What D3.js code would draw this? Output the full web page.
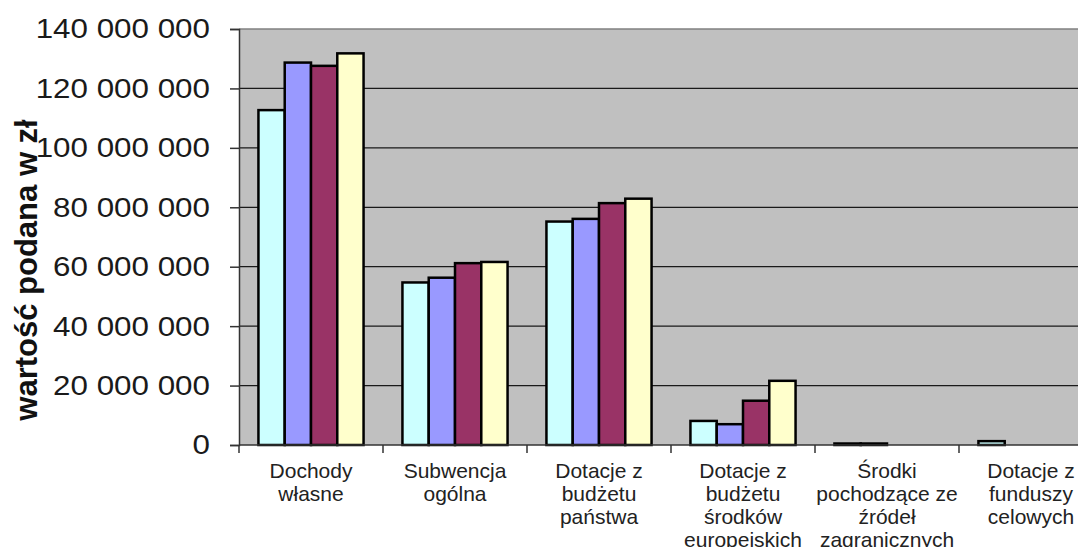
<!DOCTYPE html>
<html>
<head>
<meta charset="utf-8">
<script src="https://cdn.jsdelivr.net/npm/d3@7"></script>
<style>
  body { margin: 0; background: #fff; }
  svg { display: block; }
  text { font-family: "Liberation Sans", Arial, sans-serif; }
</style>
</head>
<body>
<div id="chart"></div>
<script>
// categories and the four series (values in zł)
var categories = [
    ["Dochody", "własne"],
    ["Subwencja", "ogólna"],
    ["Dotacje z", "budżetu", "państwa"],
    ["Dotacje z", "budżetu", "środków", "europejskich"],
    ["Środki", "pochodzące ze", "źródeł", "zagranicznych"],
    ["Dotacje z", "funduszy", "celowych"]
]
var series1 = [112700000, 54700000, 75200000, 8100000, 500000, 1300000]
var series2 = [128700000, 56300000, 76100000, 7000000, 500000, 0]
var series3 = [127600000, 61200000, 81400000, 14900000, 0, 0]
var series4 = [131800000, 61600000, 82900000, 21600000, 0, 0]
var seriesColors = ["#CCFFFF", "#9999FF", "#993366", "#FFFFCC"]
var yTicks = [0, 20000000, 40000000, 60000000, 80000000, 100000000, 120000000, 140000000]
var yTitle = "wartość podana w zł"

var allSeries = [series1, series2, series3, series4]

var W = 1078, H = 547
var plotLeft = 239, plotTop = 29, plotW = 864, plotH = 416

var svg = d3.select("#chart")
    .append("svg")
    .attr("width", W)
    .attr("height", H)

var x0 = d3.scaleBand()
    .domain(d3.range(categories.length))
    .range([plotLeft, plotLeft + plotW])
    .paddingInner(0.27)
    .paddingOuter(0.135)

var x1 = d3.scaleBand()
    .domain(d3.range(allSeries.length))
    .range([0, x0.bandwidth()])

var y = d3.scaleLinear()
    .domain([0, 140000000])
    .range([plotTop + plotH, plotTop])

// plot background
svg.append("rect")
    .attr("x", plotLeft)
    .attr("y", plotTop)
    .attr("width", plotW)
    .attr("height", plotH)
    .style("fill", "#C0C0C0")

// gridlines
svg.append("g").attr("class", "grid")
    .selectAll("line")
    .data(yTicks.filter(function (d) { return d > 0 }))
    .enter()
    .append("line")
    .attr("x1", plotLeft)
    .attr("x2", plotLeft + plotW)
    .attr("y1", function (d) { return y(d) })
    .attr("y2", function (d) { return y(d) })
    .style("stroke", function (d) { return d === 140000000 ? "#808080" : "#1a1a1a" })
    .style("stroke-width", 1.3)

// bars
var groups = svg.append("g").attr("class", "bars")
    .selectAll("g")
    .data(categories)
    .enter()
    .append("g")
    .attr("transform", function (d, i) { return "translate(" + x0(i) + ",0)" })

groups.selectAll("rect")
    .data(function (d, i) {
        return allSeries.map(function (s, k) { return { k: k, v: s[i] } })
    })
    .enter()
    .append("rect")
    .filter(function (d) { return d.v > 0 })
    .attr("x", function (d) { return x1(d.k) })
    .attr("width", x1.bandwidth())
    .attr("y", function (d) { return y(d.v) })
    .attr("height", function (d) { return y(0) - y(d.v) })
    .style("fill", function (d) { return seriesColors[d.k] })
    .style("stroke", "black")
    .style("stroke-width", 2.5)

// y axis
var sx = 1.12
var yAxis = svg.append("g")
    .attr("transform", "translate(" + plotLeft + ",0)")
    .call(d3.axisLeft(y).tickValues(yTicks).tickSize(9).tickPadding(0)
        .tickFormat(function (d) { return d3.format(",")(d).replace(/,/g, " ") }))
yAxis.select(".domain").style("stroke", "#333").style("stroke-width", 1.5)
yAxis.selectAll(".tick line").style("stroke", "#333").style("stroke-width", 1.5)
yAxis.selectAll(".tick text")
    .attr("x", -29 / sx)
    .attr("transform", "scale(" + sx + ",1)")
    .style("font-size", "28px")
    .style("fill", "#1a1a1a")

// x axis line and category separators
var xAxisG = svg.append("g").attr("class", "x-axis")
xAxisG.append("line")
    .attr("x1", plotLeft)
    .attr("x2", plotLeft + plotW)
    .attr("y1", y(0))
    .attr("y2", y(0))
    .style("stroke", "#333")
    .style("stroke-width", 1.5)

var step = x0.step()
xAxisG.selectAll("line.sep")
    .data(d3.range(categories.length + 1))
    .enter()
    .append("line")
    .attr("class", "sep")
    .attr("x1", function (d) { return plotLeft + d * step })
    .attr("x2", function (d) { return plotLeft + d * step })
    .attr("y1", y(0))
    .attr("y2", y(0) + 8)
    .style("stroke", "#333")
    .style("stroke-width", 1.5)

// category labels
var labels = xAxisG.selectAll("text")
    .data(categories)
    .enter()
    .append("text")
    .attr("text-anchor", "middle")
    .style("font-size", "21px")
    .style("fill", "#222")

labels.selectAll("tspan")
    .data(function (d, i) { return d.map(function (t) { return { t: t, i: i } }) })
    .enter()
    .append("tspan")
    .attr("x", function (d) { return x0(d.i) + x0.bandwidth() / 2 })
    .attr("y", function (d, j) { return 478 + j * 23 })
    .text(function (d) { return d.t })

// y title
svg.append("text")
    .attr("transform", "translate(37,270) rotate(-90)")
    .attr("text-anchor", "middle")
    .style("font-size", "31px")
    .style("font-weight", "bold")
    .style("fill", "#111")
    .text(yTitle)
</script>
</body>
</html>
